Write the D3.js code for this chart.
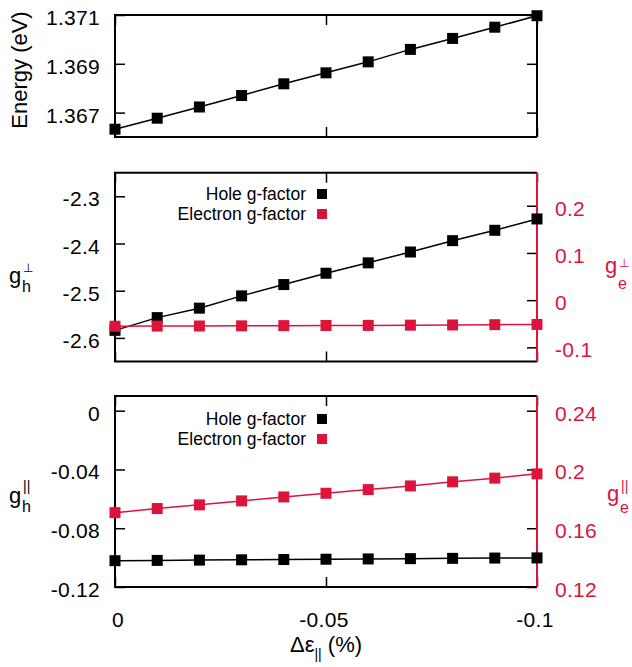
<!DOCTYPE html>
<html><head><meta charset="utf-8">
<script src="https://cdn.jsdelivr.net/npm/d3@7"></script>
<style>body{margin:0;background:#fff}text{font-family:"Liberation Sans",Arial,sans-serif}</style>
</head><body><svg id="c" width="632" height="667"></svg>
<script>
const strain = [0, -0.01, -0.02, -0.03, -0.04, -0.05, -0.06, -0.07, -0.08, -0.09, -0.1];
const energy = [1.36632, 1.36677, 1.36723, 1.36770, 1.36818, 1.36863, 1.36908, 1.36959, 1.37004, 1.37050, 1.37097];
const gPerpHole = [-2.584, -2.557, -2.537, -2.511, -2.487, -2.463, -2.441, -2.418, -2.394, -2.372, -2.348];
const gPerpElec = [-0.0553, -0.0550, -0.0548, -0.0545, -0.0540, -0.0537, -0.0535, -0.0530, -0.0526, -0.0520, -0.0515];
const gParHole = [-0.1021, -0.1019, -0.1017, -0.1015, -0.1013, -0.1011, -0.1009, -0.1007, -0.1005, -0.1003, -0.1002];
const gParElec = [0.1706, 0.1734, 0.1759, 0.1786, 0.1813, 0.1838, 0.1863, 0.1888, 0.1916, 0.1941, 0.1970];
const xTicks = [0, -0.05, -0.1];
const xTickLabels = ["0", "-0.05", "-0.1"];
const eTicks = [1.367, 1.369, 1.371];
const eTickLabels = ["1.367", "1.369", "1.371"];
const perpHoleTicks = [-2.3, -2.4, -2.5, -2.6];
const perpHoleTickLabels = ["-2.3", "-2.4", "-2.5", "-2.6"];
const perpElecTicks = [0.2, 0.1, 0, -0.1];
const perpElecTickLabels = ["0.2", "0.1", "0", "-0.1"];
const parHoleTicks = [0, -0.04, -0.08, -0.12];
const parHoleTickLabels = ["0", "-0.04", "-0.08", "-0.12"];
const parElecTicks = [0.24, 0.2, 0.16, 0.12];
const parElecTickLabels = ["0.24", "0.2", "0.16", "0.12"];
const legendLabels = ["Hole g-factor", "Electron g-factor"];

const RED = "#dc143c";
const svg = d3.select("#c");
const L = 115, R = 537;
const x = d3.scaleLinear().domain([0, -0.1]).range([L, R]);
const TL = 10;
const FS = 21;

function styleTicks(a) { a.select(".domain").remove(); a.selectAll("line").attr("stroke", "#000").attr("stroke-width", 1.5); }

function panel(top, bot, yDom, yTicks, yLabels, y2Dom, y2Ticks, y2Labels) {
  const g = svg.append("g");
  const y = d3.scaleLinear().domain(yDom).range([bot, top]);
  let y2 = null;
  g.append("g").attr("transform", `translate(${L},0)`)
    .call(d3.axisRight(y).tickValues(yTicks).tickSize(TL).tickFormat("")).call(styleTicks);
  yTicks.forEach((t, i) => g.append("text").attr("x", 100).attr("y", y(t) + 10)
    .attr("text-anchor", "end").attr("font-size", FS).attr("letter-spacing", 0.3).text(yLabels[i]));
  if (y2Dom) {
    y2 = d3.scaleLinear().domain(y2Dom).range([bot, top]);
    g.append("g").attr("transform", `translate(${R},0)`)
      .call(d3.axisLeft(y2).tickValues(y2Ticks).tickSize(TL).tickFormat("")).call(styleTicks);
    y2Ticks.forEach((t, i) => g.append("text").attr("x", 555).attr("y", y2(t) + 10)
      .attr("fill", RED).attr("font-size", FS).attr("letter-spacing", 0.3).text(y2Labels[i]));
  } else {
    g.append("g").attr("transform", `translate(${R},0)`)
      .call(d3.axisLeft(y).tickValues(yTicks).tickSize(TL).tickFormat("")).call(styleTicks);
  }
  g.append("g").attr("transform", `translate(0,${bot})`)
    .call(d3.axisTop(x).tickValues(xTicks).tickSize(TL).tickFormat("")).call(styleTicks);
  g.append("g").attr("transform", `translate(0,${top})`)
    .call(d3.axisBottom(x).tickValues(xTicks).tickSize(TL).tickFormat("")).call(styleTicks);
  g.append("path").attr("d", `M${R},${top}H${L}V${bot}H${R}`).attr("fill", "none").attr("stroke", "#000").attr("stroke-width", 2);
  g.append("line").attr("x1", R).attr("x2", R).attr("y1", top).attr("y2", bot)
    .attr("stroke", y2Dom ? RED : "#000").attr("stroke-width", 2);
  return {g, y, y2};
}

function series(g, ys, yScale, color) {
  const line = d3.line().x((d, i) => x(strain[i])).y(d => yScale(d));
  g.append("path").datum(ys).attr("d", line).attr("fill", "none").attr("stroke", color).attr("stroke-width", 1.5);
  const s = 11;
  g.selectAll(null).data(ys).enter().append("rect")
    .attr("x", (d, i) => x(strain[i]) - s / 2).attr("y", d => yScale(d) - s / 2)
    .attr("width", s).attr("height", s).attr("fill", color);
}

function legend(g, b1, b2) {
  [[legendLabels[0], "#000", b1], [legendLabels[1], RED, b2]].forEach(([t, c, b]) => {
    g.append("text").attr("x", 306).attr("y", b).attr("text-anchor", "end").attr("font-size", 17.5).text(t);
    g.append("rect").attr("x", 317).attr("y", b - 11).attr("width", 10).attr("height", 10).attr("fill", c);
  });
}

const p1 = panel(15, 137, [1.366, 1.371], eTicks, eTickLabels);
series(p1.g, energy, p1.y, "#000");
svg.append("text").attr("transform", "translate(27,70) rotate(-90)").attr("text-anchor", "middle")
  .attr("font-size", 22).text("Energy (eV)");

const p2 = panel(172.7, 361.5, [-2.65, -2.25], perpHoleTicks, perpHoleTickLabels, [-0.13, 0.27], perpElecTicks, perpElecTickLabels);
series(p2.g, gPerpHole, p2.y, "#000");
series(p2.g, gPerpElec, p2.y2, RED);
legend(p2.g, 200, 220);

const p3 = panel(396, 587, [-0.12, 0.01], parHoleTicks, parHoleTickLabels, [0.12, 0.25], parElecTicks, parElecTickLabels);
series(p3.g, gParHole, p3.y, "#000");
series(p3.g, gParElec, p3.y2, RED);
legend(p3.g, 425, 445);

xTicks.forEach((t, i) => svg.append("text").attr("x", x(t) + (i === 0 ? 3 : -2)).attr("y", 627)
  .attr("text-anchor", "middle").attr("font-size", FS).attr("letter-spacing", 0.3).text(xTickLabels[i]));

const xt = svg.append("text").attr("x", 326).attr("y", 652).attr("text-anchor", "middle").attr("font-size", 22);
xt.append("tspan").text("Δε");
xt.append("tspan").attr("font-size", 14).attr("dy", 7).text("||");
xt.append("tspan").attr("dy", -7).text(" (%)");

function glabel(xg, yb, sub, sup, color, subDy, supDy) {
  const t = svg.append("g").attr("fill", color);
  t.append("text").attr("x", xg).attr("y", yb).attr("font-size", 22).text("g");
  t.append("text").attr("x", xg + 13).attr("y", yb + subDy).attr("font-size", 16).text(sub);
  t.append("text").attr("x", xg + 14).attr("y", yb + supDy).attr("font-size", sup === "⊥" ? 12 : 14).text(sup);
}
glabel(9, 283, "h", "⊥", "#000", 8.5, -11);
glabel(605, 273, "e", "⊥", RED, 16, -6);
glabel(9, 503, "h", "||", "#000", 8.5, -12);
glabel(607, 501, "e", "||", RED, 12, -10);
</script></body></html>
